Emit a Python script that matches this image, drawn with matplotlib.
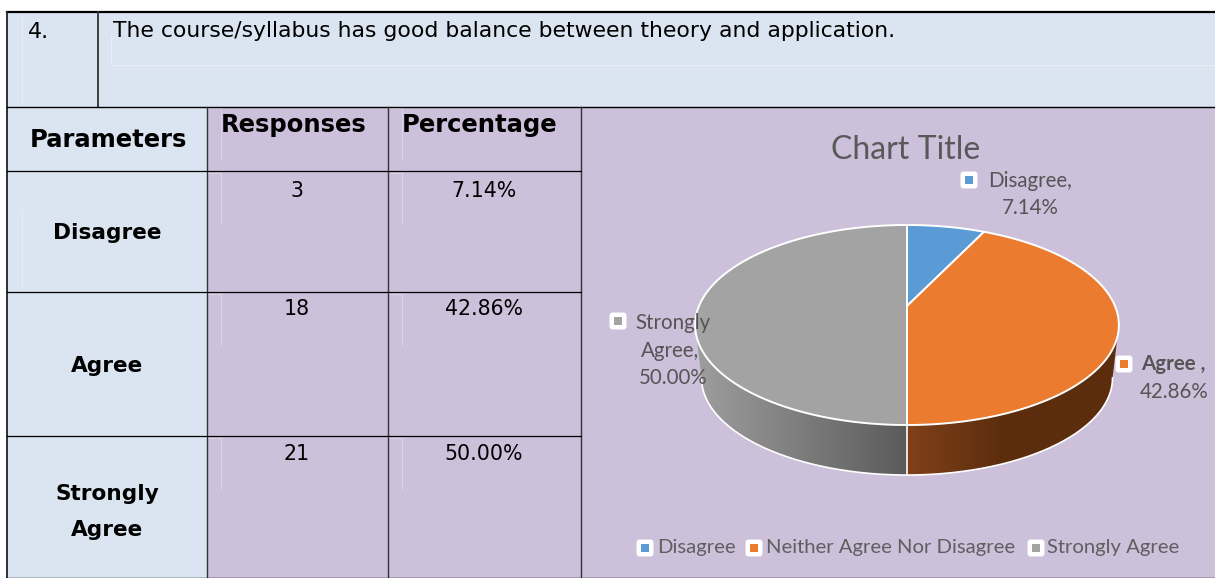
import numpy as np
import matplotlib
matplotlib.use("Agg")
import matplotlib.pyplot as plt
from matplotlib.colors import to_rgb
from matplotlib.patches import Polygon, Rectangle, FancyBboxPatch

question_no = "4."
question = "The course/syllabus has good balance between theory and application."
headers = ["Parameters", "Responses", "Percentage"]
parameters = ["Disagree", "Agree", "Strongly\nAgree"]
responses = [3, 18, 21]
percentages = [7.14, 42.86, 50.00]
pie_labels = ["Disagree,", "Agree ,", "Strongly\nAgree,"]
legend_labels = ["Disagree", "Neither Agree Nor Disagree", "Strongly Agree"]
pie_colors = ["#5b9bd5", "#eb7c2f", "#a3a3a3"]

BLUE_BG = "#dbe5f1"
PURPLE_BG = "#ccc0da"
TEXT_GREY = "#555555"
TABLE_FONT = "DejaVu Sans"
CHART_FONT = "Lato"

fig = plt.figure(figsize=(12.15, 5.78), dpi=100)
ax = fig.add_axes([0, 0, 1, 1])
ax.axis("off")

# table backgrounds
ax.add_patch(Rectangle((7, 12), 1208, 95, fc=BLUE_BG, ec="none"))
ax.add_patch(Rectangle((7, 107), 200, 471, fc=BLUE_BG, ec="none"))
ax.add_patch(Rectangle((207, 107), 1008, 471, fc=PURPLE_BG, ec="none"))

# faint ghost lines left in the scan
ghost = "#e8edf5"
ax.plot([111, 111, 1215], [35, 65, 65], c=ghost, lw=0.8)
ax.plot([22, 22], [14, 107], c=ghost, lw=0.8)
ax.plot([22, 22], [210, 290], c=ghost, lw=0.8)
for y0 in [107, 172, 293, 437]:
    for x0 in [207, 388]:
        ax.plot([x0, x0 + 14, x0 + 14], [y0 + 1, y0 + 1, y0 + 52], c="#dcd4e6", lw=0.8)

# table borders
ax.plot([7, 1215], [12, 12], c="black", lw=1.6)
ax.plot([7, 7], [12, 578], c="#222222", lw=1.3)
ax.plot([98, 98], [12, 107], c="#333333", lw=1.3)
ax.plot([7, 1215], [107, 107], c="black", lw=1.0)
for x in [207, 388, 581]:
    ax.plot([x, x], [107, 578], c="#333333", lw=1.0)
for y in [171, 292, 436]:
    ax.plot([7, 581], [y, y], c="black", lw=0.9)
ax.plot([7, 1215], [577.5, 577.5], c="black", lw=1.0)

# table text
ax.text(28, 38, question_no, fontsize=16, family=TABLE_FONT, color="black")
ax.text(113, 37, question, fontsize=15.75, family=TABLE_FONT, color="black")
ax.text(108, 147, headers[0], fontsize=17.5, family=TABLE_FONT, weight="bold", ha="center")
ax.text(294, 132, headers[1], fontsize=17.5, family=TABLE_FONT, weight="bold", ha="center")
ax.text(480, 132, headers[2], fontsize=17.5, family=TABLE_FONT, weight="bold", ha="center")

row_text_y = [233, 366, 512]
row_val_y = [197, 315, 460]
for i in range(3):
    ax.text(107, row_text_y[i], parameters[i], fontsize=15.6, family=TABLE_FONT, weight="bold",
            ha="center", va="center", linespacing=2.05)
    ax.text(297, row_val_y[i], str(responses[i]), fontsize=14.8, family=TABLE_FONT, ha="center")
    ax.text(484, row_val_y[i], "%.2f%%" % percentages[i], fontsize=14.8, family=TABLE_FONT, ha="center")

# pie in perspective: unit circle projected onto the page
CX, CY = 907, 306
RX, RY, K = 208, 96.4, 0.19
DROP_Y, DROP_S = 53.6, 0.97


def project(theta, scale=1.0, dy=0.0):
    u, v = np.sin(theta), np.cos(theta)
    d = 1 + K * v
    return np.column_stack([CX + scale * RX * u / d, CY + dy - scale * RY * v / d])


def gradient_side(t0, t1, x0, x1, c0, c1, knee=1.0):
    # horizontal gradient clipped to the side wall of the pie
    f = np.clip(np.linspace(0, 1, 256) / knee, 0, 1)[:, None]
    img = (np.array(to_rgb(c0)) * (1 - f) + np.array(to_rgb(c1)) * f)[None, :, :]
    im = ax.imshow(img, extent=[x0, x1, 480, 320], aspect="auto", zorder=2, interpolation="bilinear")
    t = np.linspace(t0, t1, 120)
    poly = Polygon(np.vstack([project(t, DROP_S, DROP_Y), project(t[::-1])]), closed=True,
                   fc="none", ec="none", zorder=2)
    ax.add_patch(poly)
    im.set_clip_path(poly)


t_edge = np.arccos(-K)
gradient_side(np.pi, 2 * np.pi - t_edge, 690, 907, "#a0a0a0", "#5b5b5b")
gradient_side(t_edge, np.pi, 907, 1125, "#80401a", "#5b2d0d", knee=0.45)

# white rim along the foot of the pie and the seam
foot = project(np.linspace(t_edge, 2 * np.pi - t_edge, 200), DROP_S, DROP_Y)
ax.plot(foot[:, 0], foot[:, 1], c="white", lw=1.2, zorder=3)
seam = np.vstack([project(np.array([np.pi])), project(np.array([np.pi]), DROP_S, DROP_Y)])
ax.plot(seam[:, 0], seam[:, 1], c="white", lw=1.2, zorder=3)

# top face, slice angles come from the percentages
start = 0.0
for pct, col in zip(percentages, pie_colors):
    stop = start + pct / 100 * 2 * np.pi
    arc = project(np.linspace(start, stop, 200))
    pts = np.vstack([[CX, CY], arc])
    ax.add_patch(Polygon(pts, closed=True, fc=col, ec="white", lw=1.4, zorder=4, joinstyle="round"))
    start = stop


def key(x, y, col, size=17):
    ax.add_patch(FancyBboxPatch((x - size / 2 + 3, y - size / 2 + 3), size - 6, size - 6,
                                boxstyle="round,pad=3,rounding_size=3", fc="white", ec="none", zorder=5))
    s = size - 9
    ax.add_patch(Rectangle((x - s / 2, y - s / 2), s, s, fc=col, ec="none", zorder=6))


ax.text(906, 150, "Chart Title", fontsize=23, family=CHART_FONT, color="#595959",
        ha="center", va="center", zorder=6)

# data labels
key(969, 180, pie_colors[0])
ax.text(1030, 181, pie_labels[0], fontsize=14.8, family=CHART_FONT, color=TEXT_GREY, ha="center", va="center", zorder=6)
ax.text(1030, 208, "%.2f%%" % percentages[0], fontsize=14.8, family=CHART_FONT, color=TEXT_GREY, ha="center", va="center", zorder=6)

key(1124, 364, pie_colors[1])
ax.text(1141, 364, pie_labels[1], fontsize=14.8, family=CHART_FONT, color=TEXT_GREY, weight="bold", va="center", zorder=6)
ax.text(1174, 392, "%.2f%%" % percentages[1], fontsize=14.8, family=CHART_FONT, color=TEXT_GREY, ha="center", va="center", zorder=6)

key(618, 321, pie_colors[2])
ax.text(673, 323, "Strongly", fontsize=14.8, family=CHART_FONT, color=TEXT_GREY, ha="center", va="center", zorder=6)
ax.text(670, 351, "Agree,", fontsize=14.8, family=CHART_FONT, color=TEXT_GREY, ha="center", va="center", zorder=6)
ax.text(673, 378, "%.2f%%" % percentages[2], fontsize=14.8, family=CHART_FONT, color=TEXT_GREY, ha="center", va="center", zorder=6)

# legend
legend_key_x = [645, 754, 1036]
legend_text_x = [657, 766, 1047]
for lab, kx, tx, col in zip(legend_labels, legend_key_x, legend_text_x, pie_colors):
    key(kx, 548, col)
    ax.text(tx, 548, lab, fontsize=14.6, family=CHART_FONT, color="#5f5f5f", va="center", zorder=6)

ax.set_xlim(0, 1215)
ax.set_ylim(578, 0)
fig.savefig("out.png", dpi=100, facecolor="white")
